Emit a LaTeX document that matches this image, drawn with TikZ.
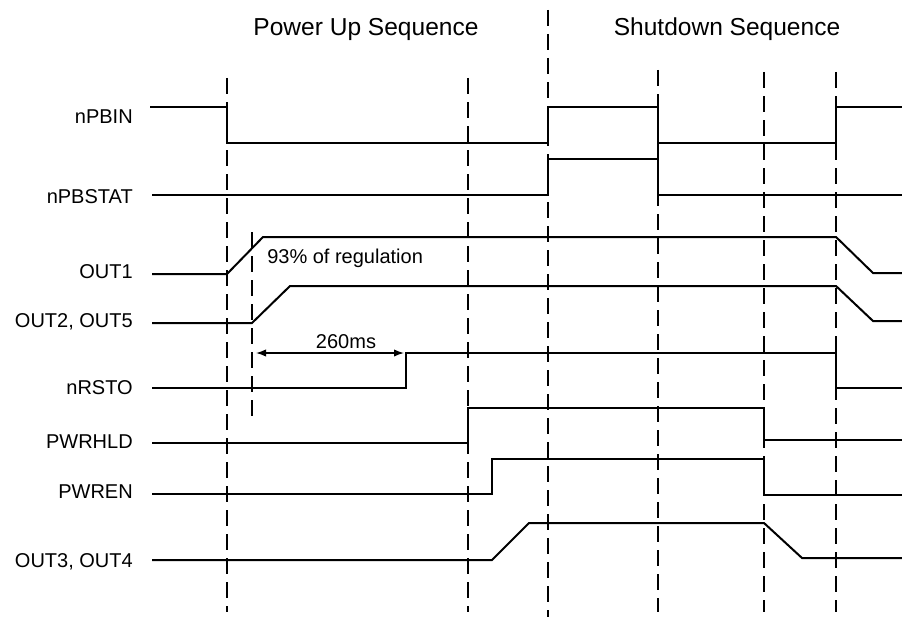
\documentclass[tikz,border=0pt]{standalone}
\usepackage{fontspec}
\setmainfont{Liberation Sans}
\usetikzlibrary{arrows.meta}
\begin{document}
\begin{tikzpicture}[x=0.75pt,y=-0.75pt,
  sig/.style={line width=1.5pt, line join=miter},
  guide/.style={line width=1.4pt, dash pattern=on 12pt off 6pt},
  lbl/.style={anchor=base east, inner sep=0pt, font=\fontsize{15}{18}\selectfont},
  ttl/.style={anchor=base, inner sep=0pt, font=\fontsize{18.4}{22}\selectfont},
  note/.style={inner sep=0pt, font=\fontsize{15}{18}\selectfont},
  dimline/.style={{Latex[length=7.5pt,width=5.5pt]}-{Latex[length=7.5pt,width=5.5pt]}, line width=1pt}]
\useasboundingbox (0,0) rectangle (902,617);
% titles
\node[ttl] (tpu) at (366,36) {Power Up Sequence};
\node[ttl] (tsd) at (727,36) {Shutdown Sequence};
% signal labels
\node[lbl] (lnpbin) at (133,123) {nPBIN};
\node[lbl] (lnpbstat) at (133,203) {nPBSTAT};
\node[lbl] (lout1) at (133,278) {OUT1};
\node[lbl] (lout2) at (133,327) {OUT2, OUT5};
\node[lbl] (lnrsto) at (133,394) {nRSTO};
\node[lbl] (lpwrhld) at (133,448) {PWRHLD};
\node[lbl] (lpwren) at (133,498) {PWREN};
\node[lbl] (lout3) at (133,567) {OUT3, OUT4};
% dashed guides
\draw[guide] (227,78) -- (227,612);
\draw[guide] (468,78) -- (468,612);
\draw[guide] (548,10) -- (548,617);
\draw[guide] (658,70) -- (658,612);
\draw[guide] (764,72) -- (764,612);
\draw[guide] (836,72) -- (836,612);
\draw[guide] (252,232) -- (252,421);
% signals
\draw[sig] (150,107) -- (227,107) -- (227,143) -- (548,143) -- (548,107) -- (658,107) -- (658,143) -- (836,143) -- (836,107) -- (902,107);
\draw[sig] (152,195) -- (548,195) -- (548,159) -- (658,159) -- (658,195) -- (902,195);
\draw[sig] (152,274) -- (227,274) -- (263,237) -- (836,237) -- (873,273) -- (902,273);
\draw[sig] (152,323) -- (252,323) -- (290,286) -- (836,286) -- (873,321) -- (902,321);
\draw[sig] (152,388) -- (406,388) -- (406,353) -- (836,353) -- (836,388) -- (902,388);
\draw[sig] (152,443) -- (468,443) -- (468,408) -- (764,408) -- (764,440) -- (902,440);
\draw[sig] (152,494) -- (492,494) -- (492,459) -- (764,459) -- (764,495) -- (902,495);
\draw[sig] (152,560) -- (492,560) -- (529,523) -- (764,523) -- (802,558) -- (902,558);
% annotations
\node[note, anchor=base west] (reg) at (267,263) {93\% of regulation};
\coordinate (a1) at (256,353);
\coordinate (a2) at (404,353);
\draw[dimline] (a1) -- (a2);
\node[note, anchor=base] (t260) at (346,348) {260ms};
\end{tikzpicture}
\end{document}
